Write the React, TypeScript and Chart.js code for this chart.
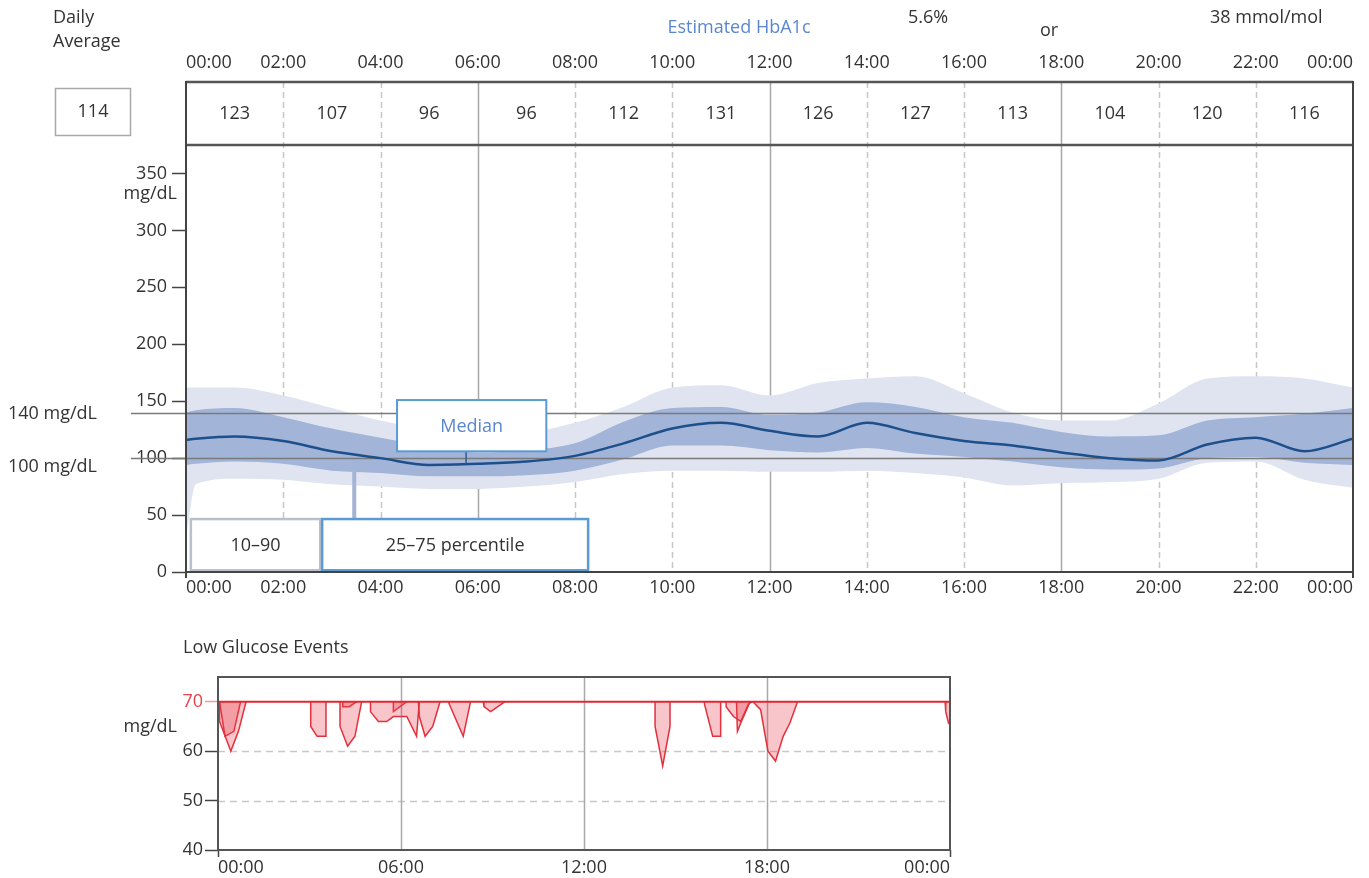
import React, { useEffect, useRef } from 'react';
import { Chart, registerables } from 'chart.js';

Chart.register(...registerables);

const FONT = '"Open Sans", "DejaVu Sans", sans-serif';
const TEXT = '#333333';
const BLUE_TEXT = '#5b87d0';

// ---------- main glucose profile (mg/dL) ----------
const HOURS = [0, 0.2, 1, 2, 3, 4, 5, 6, 7, 8, 9, 10, 11, 12, 13, 14, 15, 16, 17, 18, 19, 20, 21, 22, 23, 24];
const P10 = [30, 77, 82, 81, 77, 75, 73, 73, 75, 79, 86, 89, 89, 88, 88, 89, 87, 83, 76, 78, 79, 82, 96, 97, 81, 74];
const P25 = [94, 95, 97, 95, 89, 87, 84, 84, 85, 89, 99, 111, 111, 107, 105, 109, 104, 101, 97, 92, 90, 91, 100, 101, 96, 94];
const MEDIAN = [116, 117, 119, 115, 106, 100, 94, 95, 97, 102, 113, 126, 131, 124, 119, 131, 122, 115, 111, 105, 100, 98, 112, 118, 106, 117];
const P75 = [140, 142, 144, 136, 126, 118, 110, 105, 107, 113, 132, 144, 145, 138, 140, 149, 145, 136, 131, 123, 119, 120, 133, 136, 139, 144];
const P90 = [162, 162, 162, 155, 144, 133, 125, 119, 122, 131, 145, 162, 164, 155, 166, 170, 172, 157, 140, 133, 133, 148, 170, 172, 170, 162];

const TIME_TICKS = [0, 2, 4, 6, 8, 10, 12, 14, 16, 18, 20, 22, 24];
const GRID_HOURS = [2, 4, 6, 8, 10, 12, 14, 16, 18, 20, 22];
const SOLID_GRID_HOURS = [6, 12, 18];
const Y_TICKS = [0, 50, 100, 150, 200, 250, 300, 350];
const TARGET_LINES = [140, 100];

const INTERVAL_CENTERS = [1, 3, 5, 7, 9, 11, 13, 15, 17, 19, 21, 23];
const INTERVAL_AVERAGES = [123, 107, 96, 96, 112, 131, 126, 127, 113, 104, 120, 116];
const DAILY_AVERAGE = 114;
const HBA1C_PERCENT = 5.6;
const HBA1C_MMOL = 38;

// ---------- low glucose events (hour, mg/dL) ----------
const LOW_THRESHOLD = 70;
const LOW_Y_TICKS = [40, 50, 60, 70];
const LOW_DASHED = [50, 60];
const LOW_X_TICKS = [0, 6, 12, 18, 24];
const LOW_SOLID_GRID = [6, 12, 18];

const EVENT_01: [number, number][] = [[0.05, 70], [0.05, 66], [0.42, 60], [0.67, 64], [0.92, 70]];
const EVENT_02: [number, number][] = [[0.05, 70], [0.23, 63], [0.52, 64], [0.74, 70]];
const EVENT_03: [number, number][] = [[3.04, 70], [3.04, 65], [3.25, 63], [3.54, 63], [3.54, 70]];
const EVENT_04: [number, number][] = [[4.0, 70], [4.0, 65], [4.25, 61], [4.49, 63], [4.71, 70]];
const EVENT_05: [number, number][] = [[4.09, 70], [4.09, 69], [4.3, 69], [4.55, 70]];
const EVENT_06: [number, number][] = [[5.0, 70], [5.0, 68], [5.26, 66], [5.53, 66], [5.75, 67], [6.19, 67], [6.51, 63], [6.6, 70]];
const EVENT_07: [number, number][] = [[5.75, 70], [5.75, 68], [6.19, 70]];
const EVENT_08: [number, number][] = [[6.57, 70], [6.6, 67], [6.79, 63], [7.04, 65], [7.28, 70]];
const EVENT_09: [number, number][] = [[7.55, 70], [8.04, 63], [8.28, 70]];
const EVENT_10: [number, number][] = [[8.7, 70], [8.72, 69], [8.94, 68], [9.41, 70]];
const EVENT_11: [number, number][] = [[14.33, 70], [14.33, 65], [14.58, 57], [14.82, 65], [14.82, 70]];
const EVENT_12: [number, number][] = [[15.95, 70], [15.95, 69.5], [16.22, 63], [16.48, 63], [16.48, 70]];
const EVENT_13: [number, number][] = [[16.66, 70], [16.66, 69], [16.9, 67], [17.14, 66], [17.39, 69.5], [17.5, 70]];
const EVENT_14: [number, number][] = [[17.0, 70], [17.03, 64], [17.16, 66], [17.43, 69.8], [17.52, 70]];
const EVENT_15: [number, number][] = [[17.54, 70], [17.79, 68.4], [18.03, 60], [18.28, 58], [18.53, 63], [18.75, 65.7], [19.0, 70]];
const EVENT_16: [number, number][] = [[23.84, 70], [23.86, 68], [23.95, 65.7], [24, 66], [24, 70]];
const LOW_EVENTS = [EVENT_01, EVENT_02, EVENT_03, EVENT_04, EVENT_05, EVENT_06, EVENT_07, EVENT_08,
  EVENT_09, EVENT_10, EVENT_11, EVENT_12, EVENT_13, EVENT_14, EVENT_15, EVENT_16];

// ---------- layout (pixels / data-space callout placement) ----------
const MAIN_H = 620;
const LOW_H = 258;
const TABLE_TOP = 82;
const AXIS_EXT = 6;
const MEDIAN_BOX = { x0: 4.34, x1: 7.41, y0: 106, y1: 151, anchorX: 5.76, anchorY: 95 };
const P1090_BOX = { x0: 0.1, x1: 2.76, y0: 1.5, y1: 46.5 };
const P2575_BOX = { x0: 2.8, x1: 8.27, y0: 1.5, y1: 46.5, anchorX: 3.46, anchorY: 88 };

Chart.defaults.font.family = FONT;
Chart.defaults.font.size = 18;
Chart.defaults.color = TEXT;

const fmtHour = (h: number) => String(Number(h) % 24).padStart(2, '0') + ':00';
const ptsOf = (ys: number[]) => ys.map((y, i) => ({ x: HOURS[i], y }));
const noSidePad = (s: any) => { s.paddingLeft = 0; s.paddingRight = 0; };

function text(ctx: CanvasRenderingContext2D, s: string, x: number, y: number, align: CanvasTextAlign = 'left', color = TEXT, size = 18) {
  ctx.font = `${size}px ${FONT}`;
  ctx.fillStyle = color;
  ctx.textAlign = align;
  ctx.textBaseline = 'middle';
  ctx.fillText(s, x, y);
}

function line(ctx: CanvasRenderingContext2D, x0: number, y0: number, x1: number, y1: number, color: string, width: number, dash: number[] = []) {
  ctx.save();
  ctx.strokeStyle = color;
  ctx.lineWidth = width;
  ctx.setLineDash(dash);
  ctx.beginPath();
  ctx.moveTo(x0, y0);
  ctx.lineTo(x1, y1);
  ctx.stroke();
  ctx.restore();
}

const mainDecor = {
  id: 'mainDecor',
  beforeDatasetsDraw(chart: any) {
    const { ctx, chartArea, scales } = chart;
    const x = scales.x;
    for (const h of GRID_HOURS) {
      const px = Math.round(x.getPixelForValue(h)) + 0.5;
      const solid = SOLID_GRID_HOURS.includes(h);
      line(ctx, px, TABLE_TOP, px, chartArea.bottom, solid ? '#a8a8a8' : '#c6c6c6', 1.5, solid ? [] : [6, 4]);
    }
  },
  beforeDatasetDraw(chart: any, args: any) {
    if (args.index !== 0) return;
    const { ctx, chartArea, scales } = chart;
    for (const v of TARGET_LINES) {
      const py = Math.round(scales.y.getPixelForValue(v)) + 0.5;
      line(ctx, 131, py, chartArea.right, py, '#7a7a7a', 1.5);
    }
  },
  afterDatasetsDraw(chart: any) {
    const { ctx, chartArea, scales } = chart;
    const x = scales.x, y = scales.y;
    const rect = (b: any) => ({
      l: x.getPixelForValue(b.x0), r: x.getPixelForValue(b.x1),
      t: y.getPixelForValue(b.y1), btm: y.getPixelForValue(b.y0),
    });
    // connectors
    const mb = rect(MEDIAN_BOX);
    const mx = x.getPixelForValue(MEDIAN_BOX.anchorX);
    line(ctx, mx, mb.btm, mx, y.getPixelForValue(MEDIAN_BOX.anchorY), '#2a5d95', 1.5);
    const pb = rect(P2575_BOX);
    const px = x.getPixelForValue(P2575_BOX.anchorX);
    line(ctx, px, y.getPixelForValue(P2575_BOX.anchorY), px, pb.t, '#a4b4d6', 4);
    // boxes
    const drawBox = (r: any, stroke: string, w: number) => {
      ctx.save();
      ctx.fillStyle = '#ffffff';
      ctx.fillRect(r.l, r.t, r.r - r.l, r.btm - r.t);
      ctx.strokeStyle = stroke;
      ctx.lineWidth = w;
      ctx.strokeRect(r.l, r.t, r.r - r.l, r.btm - r.t);
      ctx.restore();
    };
    drawBox(mb, '#5b9bd5', 2);
    text(ctx, 'Median', (mb.l + mb.r) / 2, (mb.t + mb.btm) / 2 + 1, 'center', BLUE_TEXT);
    const qb = rect(P1090_BOX);
    drawBox(qb, '#b9bfcc', 2.5);
    text(ctx, '10\u201390', (qb.l + qb.r) / 2, (qb.t + qb.btm) / 2 + 1, 'center');
    drawBox(pb, '#5b9bd5', 2.5);
    text(ctx, '25\u201375 percentile', (pb.l + pb.r) / 2, (pb.t + pb.btm) / 2 + 1, 'center');

    // table + frame
    const L = chartArea.left, R = chartArea.right;
    line(ctx, L, TABLE_TOP, R, TABLE_TOP, '#555555', 2.5);
    line(ctx, L, chartArea.top, R, chartArea.top, '#555555', 2.5);
    line(ctx, L, TABLE_TOP - 1, L, chartArea.bottom + AXIS_EXT, '#444444', 2);
    line(ctx, R, TABLE_TOP - 1, R, chartArea.bottom + AXIS_EXT, '#444444', 2);
    line(ctx, L, chartArea.bottom, R, chartArea.bottom, '#444444', 2);
    const tableMid = (TABLE_TOP + chartArea.top) / 2;
    INTERVAL_CENTERS.forEach((h, i) => {
      text(ctx, String(INTERVAL_AVERAGES[i]), x.getPixelForValue(h), tableMid, 'center');
    });

    // side labels
    text(ctx, '140 mg/dL', 8, y.getPixelForValue(140) + 1);
    text(ctx, '100 mg/dL', 8, y.getPixelForValue(100) + 9);
    text(ctx, 'mg/dL', L - 9, y.getPixelForValue(350) + 20, 'right');

    // daily average
    text(ctx, 'Daily', 53, 18);
    text(ctx, 'Average', 53, 42);
    ctx.save();
    ctx.strokeStyle = '#a8a8a8';
    ctx.lineWidth = 1.5;
    ctx.strokeRect(55.5, 88.5, 75, 47);
    ctx.restore();
    text(ctx, String(DAILY_AVERAGE), 93, 112, 'center');

    // HbA1c
    text(ctx, 'Estimated HbA1c', 739, 28, 'center', BLUE_TEXT);
    text(ctx, `${HBA1C_PERCENT.toFixed(1)}%`, 908, 18);
    text(ctx, 'or', 1040, 31);
    text(ctx, `${HBA1C_MMOL} mmol/mol`, 1210, 18);
  },
};

const lowDecor = {
  id: 'lowDecor',
  beforeDatasetsDraw(chart: any) {
    const { ctx, chartArea, scales } = chart;
    for (const v of LOW_DASHED) {
      const py = Math.round(scales.y.getPixelForValue(v)) + 0.5;
      line(ctx, chartArea.left, py, chartArea.right, py, '#c8c8c8', 1.5, [7, 5]);
    }
    for (const h of LOW_SOLID_GRID) {
      const px = Math.round(scales.x.getPixelForValue(h)) + 0.5;
      line(ctx, px, chartArea.top, px, chartArea.bottom, '#a8a8a8', 1.5);
    }
  },
  afterDraw(chart: any) {
    const { ctx, chartArea, scales } = chart;
    ctx.save();
    ctx.strokeStyle = '#555555';
    ctx.lineWidth = 2;
    ctx.strokeRect(chartArea.left, chartArea.top, chartArea.right - chartArea.left, chartArea.bottom - chartArea.top);
    ctx.restore();
    text(ctx, 'Low Glucose Events', 183, 28);
    text(ctx, 'mg/dL', 177, scales.y.getPixelForValue(65), 'right');
  },
};

function mainConfig(): any {
  const band = { pointRadius: 0, borderWidth: 0, borderColor: 'rgba(0,0,0,0)', cubicInterpolationMode: 'monotone' };
  return {
    type: 'line',
    data: {
      datasets: [
        { label: 'Median', data: ptsOf(MEDIAN), borderColor: '#1d4f8b', borderWidth: 2.5, pointRadius: 0, fill: false, cubicInterpolationMode: 'monotone', order: 0 },
        { label: '75th', data: ptsOf(P75), backgroundColor: '#a2b4d8', fill: '+1', order: 1, ...band },
        { label: '25th', data: ptsOf(P25), fill: false, order: 1, ...band },
        { label: '90th', data: ptsOf(P90), backgroundColor: '#dfe4f0', fill: '+1', order: 2, ...band },
        { label: '10th', data: ptsOf(P10), fill: false, order: 2, ...band },
      ],
    },
    options: {
      animation: false,
      responsive: false,
      devicePixelRatio: 1,
      layout: { padding: { left: 0, right: 16, top: 0, bottom: 18 } },
      plugins: { legend: { display: false }, tooltip: { enabled: false } },
      scales: {
        x: {
          type: 'linear', position: 'bottom', min: 0, max: 24,
          afterFit: (s: any) => { s.height = 30; noSidePad(s); },
          afterBuildTicks: (s: any) => { s.ticks = TIME_TICKS.map((v) => ({ value: v })); },
          ticks: { callback: (v: any) => fmtHour(v), align: 'inner', padding: 5, autoSkip: false, maxRotation: 0, color: TEXT },
          grid: { display: false, drawTicks: false },
          border: { display: false },
        },
        xTop: {
          type: 'linear', position: 'top', min: 0, max: 24,
          afterFit: (s: any) => { s.height = 145; noSidePad(s); },
          afterBuildTicks: (s: any) => { s.ticks = TIME_TICKS.map((v) => ({ value: v })); },
          ticks: { callback: (v: any) => fmtHour(v), align: 'inner', padding: 71, autoSkip: false, maxRotation: 0, color: TEXT },
          grid: { display: false, drawTicks: false },
          border: { display: false },
        },
        y: {
          type: 'linear', min: 0, max: 375,
          afterFit: (s: any) => { s.width = 186; },
          afterBuildTicks: (s: any) => { s.ticks = Y_TICKS.map((v) => ({ value: v })); },
          ticks: { padding: 5, color: TEXT },
          grid: { drawOnChartArea: false, drawTicks: true, tickLength: 14, tickColor: '#444444', tickWidth: 1.5 },
          border: { display: false },
        },
      },
    },
    plugins: [mainDecor],
  };
}

function lowConfig(): any {
  return {
    type: 'line',
    data: {
      datasets: [
        { label: 'threshold', data: [{ x: 0, y: LOW_THRESHOLD }, { x: 24, y: LOW_THRESHOLD }], borderColor: '#e3262f', borderWidth: 2, pointRadius: 0, fill: false, order: 0 },
        ...LOW_EVENTS.map((ev, i) => ({
          label: `event ${i + 1}`,
          data: ev.map(([x, y]) => ({ x, y })),
          fill: { value: LOW_THRESHOLD },
          backgroundColor: 'rgba(232, 64, 80, 0.3)',
          borderColor: '#e3303c',
          borderWidth: 1.5,
          pointRadius: 0,
          tension: 0,
          order: 1,
        })),
      ],
    },
    options: {
      animation: false,
      responsive: false,
      devicePixelRatio: 1,
      layout: { padding: { left: 0, right: 419, top: 57, bottom: 0 } },
      plugins: { legend: { display: false }, tooltip: { enabled: false } },
      scales: {
        x: {
          type: 'linear', min: 0, max: 24,
          afterFit: (s: any) => { s.height = 28; noSidePad(s); },
          afterBuildTicks: (s: any) => { s.ticks = LOW_X_TICKS.map((v) => ({ value: v })); },
          ticks: { callback: (v: any) => fmtHour(v), align: 'inner', padding: 0, autoSkip: false, maxRotation: 0, color: TEXT },
          grid: {
            drawOnChartArea: false, drawTicks: true, tickLength: 7, tickWidth: 1.5,
            tickColor: (c: any) => (c.tick && (c.tick.value === 0 || c.tick.value === 24) ? '#444444' : 'rgba(0,0,0,0)'),
          },
          border: { display: false },
        },
        y: {
          type: 'linear', min: 40, max: 75,
          afterFit: (s: any) => { s.width = 218; },
          afterBuildTicks: (s: any) => { s.ticks = LOW_Y_TICKS.map((v) => ({ value: v })); },
          ticks: { padding: 2, color: (c: any) => (c.tick && c.tick.value === LOW_THRESHOLD ? '#e8434c' : TEXT) },
          grid: {
            drawOnChartArea: false, drawTicks: true, tickLength: 13, tickWidth: 1.5,
            tickColor: (c: any) => (c.tick && c.tick.value === LOW_THRESHOLD ? '#f29aa0' : '#444444'),
          },
          border: { display: false },
        },
      },
    },
    plugins: [lowDecor],
  };
}

export default function App() {
  const mainRef = useRef<HTMLCanvasElement>(null);
  const lowRef = useRef<HTMLCanvasElement>(null);
  useEffect(() => {
    const c1 = new Chart(mainRef.current as HTMLCanvasElement, mainConfig());
    const c2 = new Chart(lowRef.current as HTMLCanvasElement, lowConfig());
    return () => {
      c1.destroy();
      c2.destroy();
    };
  }, []);
  return (
    <div style={{ position: 'absolute', left: 0, top: 0, width: 1369, height: 878, background: '#ffffff' }}>
      <canvas ref={mainRef} width={1369} height={MAIN_H} style={{ position: 'absolute', left: 0, top: 0 }} />
      <canvas ref={lowRef} width={1369} height={LOW_H} style={{ position: 'absolute', left: 0, top: MAIN_H }} />
    </div>
  );
}
